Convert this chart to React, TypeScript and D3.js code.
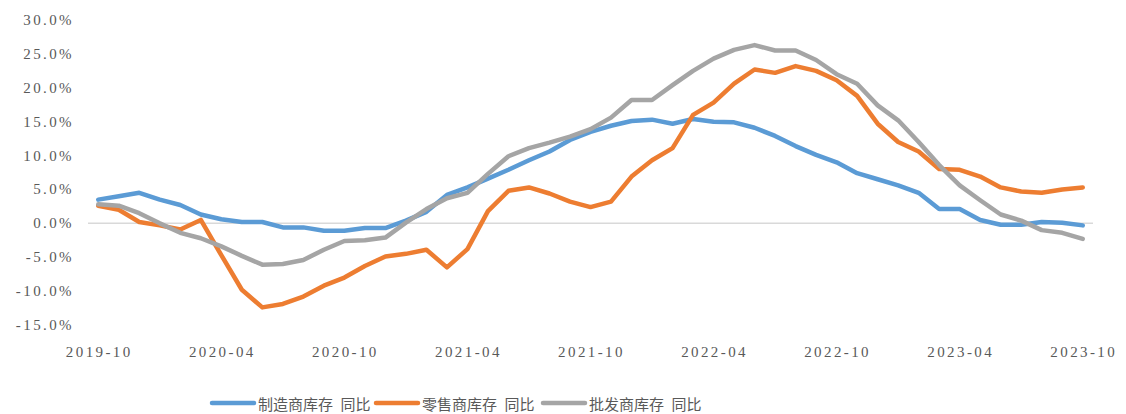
import React from "react";
import * as d3 from "d3";

const months: string[] = [];
for (let i = 0; i < 49; i++) {
  const y = 2019 + Math.floor((9 + i) / 12);
  const m = ((9 + i) % 12) + 1;
  months.push(`${y}-${String(m).padStart(2, "0")}`);
}

const tickLabels = ["2019-10", "2020-04", "2020-10", "2021-04", "2021-10", "2022-04", "2022-10", "2023-04", "2023-10"];
const yTicks = [-15, -10, -5, 0, 5, 10, 15, 20, 25, 30];

const manufacturing = [
  3.5, 4.0, 4.5, 3.5, 2.7, 1.3, 0.6, 0.2, 0.2, -0.6, -0.6, -1.1, -1.1, -0.7, -0.7, 0.4, 1.7,
  4.2, 5.3, 6.6, 7.9, 9.3, 10.6, 12.3, 13.5, 14.4, 15.1, 15.3, 14.7, 15.4, 15.0, 14.9,
  14.1, 12.9, 11.4, 10.1, 9.0, 7.4, 6.5, 5.6, 4.5, 2.1, 2.1, 0.5, -0.2, -0.2, 0.2, 0.1, -0.3,
];
const retail = [
  2.6, 2.0, 0.2, -0.3, -0.9, 0.5, -4.7, -9.8, -12.4, -11.9, -10.8, -9.2, -8.0, -6.3, -4.9, -4.5, -3.9,
  -6.5, -3.8, 1.8, 4.8, 5.3, 4.4, 3.2, 2.4, 3.2, 6.9, 9.3, 11.1, 16.0, 17.8, 20.6,
  22.7, 22.2, 23.2, 22.5, 21.1, 18.8, 14.7, 12.0, 10.6, 8.0, 7.9, 6.9, 5.3, 4.7, 4.5, 5.0, 5.3,
];
const wholesale = [
  2.8, 2.6, 1.5, 0.0, -1.4, -2.2, -3.4, -4.8, -6.1, -6.0, -5.4, -3.9, -2.6, -2.5, -2.1, 0.1, 2.1,
  3.7, 4.5, 7.3, 9.9, 11.1, 11.9, 12.8, 13.9, 15.6, 18.2, 18.2, 20.4, 22.5, 24.3, 25.6,
  26.3, 25.5, 25.5, 24.1, 22.0, 20.6, 17.4, 15.2, 12.0, 8.6, 5.6, 3.4, 1.3, 0.4, -1.0, -1.4, -2.3,
];

const seriesNames = ["制造商库存\u2002同比", "零售商库存\u2002同比", "批发商库存\u2002同比"];
const seriesColors = ["#5B9BD5", "#ED7D31", "#A5A5A5"];
const seriesData = [manufacturing, retail, wholesale];

export default function App() {
  const W = 1126, H = 414;
  const x = d3.scalePoint<string>().domain(months).range([88, 1093]).padding(0.5);
  const y = d3.scaleLinear().domain([-15, 30]).range([325, 20]);
  const line = d3
    .line<number>()
    .x((_, i) => x(months[i]) as number)
    .y((d) => y(d));

  const textColor = "#595959";
  const legendX = [212, 376, 543];

  return (
    <svg width={W} height={H} style={{ position: "absolute", left: 0, top: 0, background: "#fff" }}>
      <line x1={88} x2={1093} y1={y(0)} y2={y(0)} stroke="#d9d9d9" strokeWidth={1.5} />
      {yTicks.map((t) => (
        <text
          key={t}
          x={74}
          y={y(t)}
          textAnchor="end"
          dominantBaseline="central"
          fontFamily="'Liberation Serif', serif"
          fontSize={15}
          letterSpacing={2.4}
          fill={textColor}
        >
          {t.toFixed(1) + "%"}
        </text>
      ))}
      {tickLabels.map((t) => (
        <text
          key={t}
          x={(x(t) as number) + 1}
          y={352}
          textAnchor="middle"
          dominantBaseline="central"
          fontFamily="'Liberation Serif', serif"
          fontSize={15}
          letterSpacing={2.4}
          fill={textColor}
        >
          {t}
        </text>
      ))}
      {seriesData.map((s, k) => (
        <path
          key={k}
          d={line(s) || ""}
          fill="none"
          stroke={seriesColors[k]}
          strokeWidth={4.5}
          strokeLinejoin="round"
          strokeLinecap="round"
        />
      ))}
      {seriesNames.map((n, k) => (
        <g key={n} transform={`translate(${legendX[k]},403)`}>
          <line x1={0} x2={42} y1={0} y2={0} stroke={seriesColors[k]} strokeWidth={4.5} strokeLinecap="round" />
          <text
            x={46}
            y={0}
            dominantBaseline="central"
            fontFamily="'Noto Sans CJK SC', sans-serif"
            fontSize={15}
            fill={textColor}
            style={{ whiteSpace: "pre" }}
          >
            {n}
          </text>
        </g>
      ))}
    </svg>
  );
}
